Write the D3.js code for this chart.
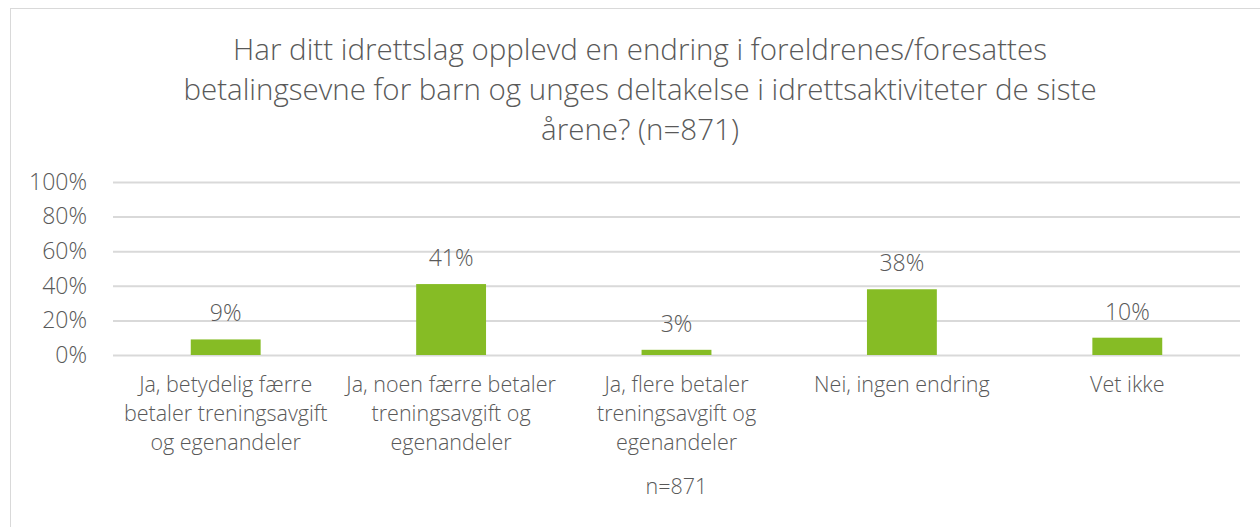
<!DOCTYPE html>
<html lang="no">
<head>
  <meta charset="UTF-8" />
  <title>Foreldrenes betalingsevne</title>
  <script src="https://d3js.org/d3.v7.min.js"></script>
  <style>
    body {
      margin: 0;
      background: #fff;
      font-family: 'Open Sans', sans-serif;
      font-weight: 300;
    }
    svg { display: block; }
    text { fill: #595959; }
  </style>
</head>
<body>
  <svg width="1260" height="527"></svg>
  <script>
    const titleLines = [
      "Har ditt idrettslag opplevd en endring i foreldrenes/foresattes",
      "betalingsevne for barn og unges deltakelse i idrettsaktiviteter de siste",
      "årene? (n=871)"
    ];
    const categories = [
      "Ja, betydelig færre|betaler treningsavgift|og egenandeler",
      "Ja, noen færre betaler|treningsavgift og|egenandeler",
      "Ja, flere betaler|treningsavgift og|egenandeler",
      "Nei, ingen endring",
      "Vet ikke"
    ];
    const values = [9, 41, 3, 38, 10];
    const yTicks = [0, 20, 40, 60, 80, 100];
    const note = "n=871";

    const svg = d3.select("svg");
    const plot = { left: 113, right: 1240, top: 182, bottom: 355 };

    // outer frame
    svg.append("rect")
      .attr("x", 10.5).attr("y", 8.5)
      .attr("width", 1300).attr("height", 600)
      .attr("fill", "none")
      .attr("stroke", "#d9d9d9");

    svg.append("text")
      .attr("text-anchor", "middle")
      .style("font-size", "29.5px")
      .selectAll("tspan")
      .data(titleLines)
      .enter()
      .append("tspan")
      .attr("x", 640)
      .attr("y", (d, i) => 60 + i * 40)
      .text(d => d);

    const x = d3.scaleBand()
      .domain(categories)
      .range([plot.left, plot.right])
      .paddingInner(0.69)
      .paddingOuter(0.345);

    const y = d3.scaleLinear()
      .domain([0, 100])
      .range([plot.bottom, plot.top]);

    // gridlines + y labels
    const yAxis = svg.append("g")
      .attr("transform", `translate(${plot.left},0)`)
      .call(d3.axisLeft(y).tickValues(yTicks).tickFormat(d => d + "%")
        .tickSize(-(plot.right - plot.left)).tickPadding(26));
    yAxis.select(".domain").remove();
    yAxis.selectAll("line").attr("stroke", "#d9d9d9").attr("stroke-width", 2);
    yAxis.selectAll("text")
      .attr("fill", "#595959")
      .style("font-family", "'Open Sans', sans-serif")
      .style("font-weight", 300)
      .style("font-size", "23px");

    svg.append("g").selectAll("rect")
      .data(values)
      .enter()
      .append("rect")
      .attr("x", (d, i) => x(categories[i]))
      .attr("y", d => y(d))
      .attr("width", x.bandwidth())
      .attr("height", d => y(0) - y(d))
      .attr("fill", "#86bc25");

    svg.append("g").selectAll("text")
      .data(values)
      .enter()
      .append("text")
      .attr("x", (d, i) => x(categories[i]) + x.bandwidth() / 2)
      .attr("y", d => y(d) - 18)
      .attr("text-anchor", "middle")
      .style("font-size", "23px")
      .text(d => d + "%");

    svg.append("g").selectAll("text")
      .data(categories)
      .enter()
      .append("text")
      .attr("text-anchor", "middle")
      .style("font-size", "21.5px")
      .each(function (d) {
        const cx = x(d) + x.bandwidth() / 2;
        d3.select(this).selectAll("tspan")
          .data(d.split("|"))
          .enter()
          .append("tspan")
          .attr("x", cx)
          .attr("y", (t, i) => 392 + i * 29)
          .text(t => t);
      });

    svg.append("text")
      .attr("x", (plot.left + plot.right) / 2)
      .attr("y", 494)
      .attr("text-anchor", "middle")
      .style("font-size", "21.5px")
      .text(note);
  </script>
</body>
</html>
